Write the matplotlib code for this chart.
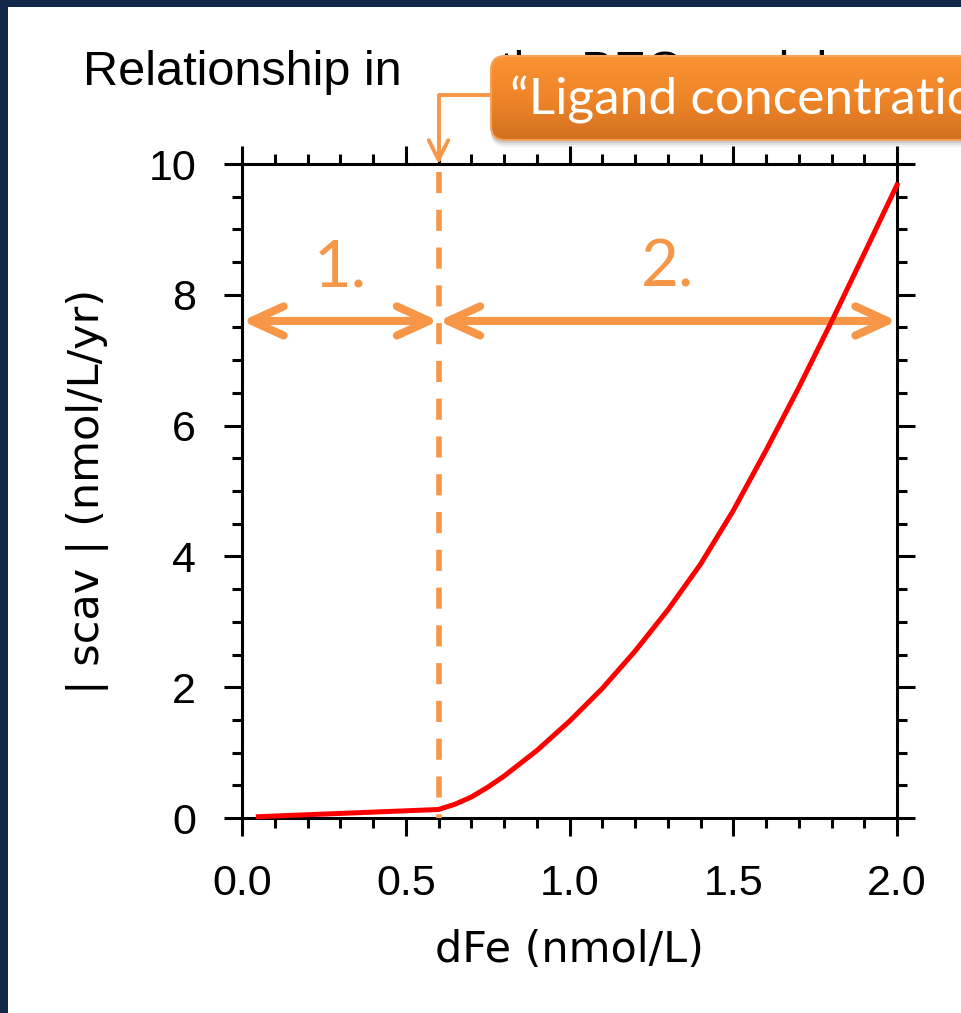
import numpy as np
import matplotlib.pyplot as plt
from matplotlib.patches import FancyBboxPatch, Rectangle
from matplotlib.colors import LinearSegmentedColormap
from matplotlib.ticker import MultipleLocator

plt.rcParams['font.family'] = ['Liberation Sans', 'DejaVu Sans']

# scavenging rate vs dissolved iron
dfe = [0.05, 0.1, 0.2, 0.3, 0.4, 0.5, 0.6, 0.65, 0.7, 0.75, 0.8, 0.9, 1.0,
       1.1, 1.2, 1.3, 1.4, 1.5, 1.6, 1.7, 1.8, 1.9, 2.0]
scav = [0.02, 0.03, 0.05, 0.07, 0.09, 0.11, 0.13, 0.21, 0.32, 0.47, 0.64, 1.03, 1.48,
        1.98, 2.55, 3.18, 3.88, 4.70, 5.62, 6.58, 7.59, 8.63, 9.68]

ligand = 0.6          # ligand threshold (nmol/L)
arrow_y = 7.6
label_y = 8.12
regions = ['1.', '2.']

xticks = [0.0, 0.5, 1.0, 1.5, 2.0]
xtick_labels = ['0.0', '0.5', '1.0', '1.5', '2.0']
yticks = [0, 2, 4, 6, 8, 10]
ytick_labels = ['0', '2', '4', '6', '8', '10']

title_head = 'Relationship in'
title_tail = 'the BEC model'
callout = '\u201cLigand concentration\u201d'

navy = '#12284a'
orange = '#f79646'

W, H = 961, 1013
fig = plt.figure(figsize=(W / 100, H / 100), dpi=100, facecolor=navy)
fig.add_artist(Rectangle((8 / W, 0), 1, 1 - 7 / H, transform=fig.transFigure,
                         facecolor='white', edgecolor='none', zorder=-1))

ax = fig.add_axes([242 / W, 1 - 818 / H, 655 / W, 654 / H])
ax.set_xlim(0, 2)
ax.set_ylim(0, 10)

ax.plot(dfe, scav, color='red', lw=3.6, zorder=6, clip_on=False,
        solid_joinstyle='round')

# ligand threshold marker
ax.plot([ligand, ligand], [9.88, 0], color=orange, lw=4, dashes=(3.8, 3.0),
        zorder=7, clip_on=False)

arrow_kw = dict(arrowstyle='<->,head_length=2.3,head_width=1.05', mutation_scale=10,
                lw=5.8, color=orange, shrinkA=0, shrinkB=0,
                capstyle='round', joinstyle='round')
spans = [(0.0, ligand), (ligand, 2.0)]
for (x0, x1), lab in zip(spans, regions):
    ax.annotate('', xy=(x0, arrow_y), xytext=(x1, arrow_y), arrowprops=arrow_kw,
                annotation_clip=False, zorder=5)
    ax.text((x0 + x1) / 2, label_y, lab, color=orange, fontsize=47, family='Lato',
            ha='center', va='baseline')

ax.set_xticks(xticks, labels=xtick_labels)
ax.set_yticks(yticks, labels=ytick_labels)
ax.xaxis.set_minor_locator(MultipleLocator(0.1))
ax.yaxis.set_minor_locator(MultipleLocator(0.5))
ax.tick_params(which='both', direction='out', top=True, right=True, width=2.2,
               labelsize=31, pad=20)
ax.tick_params(which='major', length=13)
ax.tick_params(which='minor', length=7)
for s in ax.spines.values():
    s.set_linewidth(2.2)

ax.set_xlabel('dFe (nmol/L)', fontsize=31, family='DejaVu Sans', va='baseline')
ax.xaxis.set_label_coords(0.5, -(962 - 818) / 654)
ax.set_ylabel('| scav | (nmol/L/yr)', fontsize=31, family='DejaVu Sans', va='center')
ax.yaxis.set_label_coords((88 - 242) / 655, 0.5)

# overlay in pixel units for the title and the callout box
ov = fig.add_axes([0, 0, 1, 1])
ov.set_axis_off()
ov.patch.set_visible(False)

ov.text(83, 85, title_head, fontsize=35, ha='left', va='baseline', zorder=1)
ov.text(500, 85, title_tail, fontsize=35, ha='left', va='baseline', zorder=1)

bx, by, bw, bh = 491, 56, 540, 84
style = 'round,pad=0,rounding_size=14'
for off, a in [(7, 0.05), (5, 0.07), (3, 0.09)]:
    ov.add_patch(FancyBboxPatch((bx, by + off), bw, bh, boxstyle=style,
                                fc='black', ec='none', alpha=a, zorder=2))
box = FancyBboxPatch((bx, by), bw, bh, boxstyle=style, fc='none',
                     ec='#f3a35c', lw=1.5, zorder=4)
ov.add_patch(box)
cmap = LinearSegmentedColormap.from_list('callout', ['#fa9332', '#ef8529', '#d2701f'])
grad = np.linspace(0, 1, 256).reshape(-1, 1)
im = ov.imshow(grad, cmap=cmap, extent=(bx, bx + bw, by + bh, by), aspect='auto',
               origin='upper', zorder=3)
im.set_clip_path(box)
ov.text(510, 114, callout, color='white', fontsize=37, family='Lato',
        ha='left', va='baseline', zorder=5)

ov.annotate('', xy=(ligand, 10.0), xycoords=ax.transData, xytext=(bx, 95),
            textcoords='data',
            arrowprops=dict(arrowstyle='->,head_length=1.4,head_width=0.7',
                            mutation_scale=10, lw=2.8, color=orange,
                            shrinkA=0, shrinkB=0, capstyle='round',
                            connectionstyle='angle,angleA=0,angleB=90,rad=0'),
            annotation_clip=False, zorder=2.5)

ov.set_xlim(0, W)
ov.set_ylim(H, 0)

fig.savefig('out.png', dpi=100, facecolor=navy)
